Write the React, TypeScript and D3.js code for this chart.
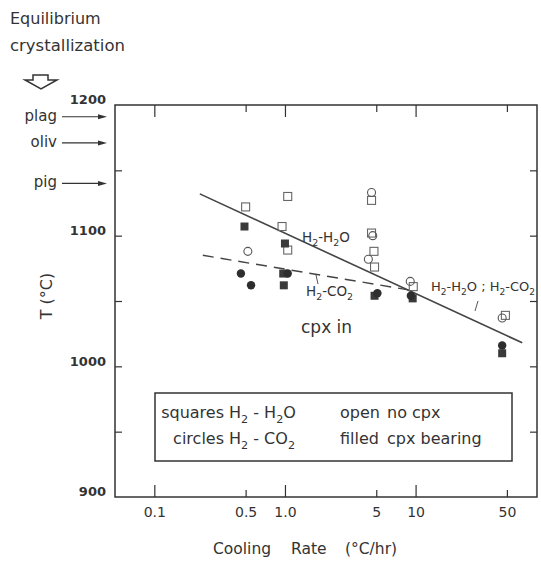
import React, { useEffect, useRef } from 'react';
import * as d3 from 'd3';

// cooling rate (°C/hr), temperature (°C) pairs
const openSquares = [[0.5, 1122], [1.05, 1130], [0.95, 1107], [1.05, 1089], [4.6, 1127], [4.6, 1102], [4.8, 1088], [4.85, 1076], [9.6, 1061], [48.7, 1039]];
const openCircles = [[0.52, 1088], [4.6, 1133], [4.7, 1100], [4.35, 1082], [9.1, 1065], [46, 1037]];
const filledSquares = [[0.49, 1107], [1.0, 1094], [0.97, 1071], [0.98, 1062], [4.85, 1054], [9.5, 1052], [46, 1010]];
const filledCircles = [[0.46, 1071], [0.55, 1062], [1.05, 1071], [5.1, 1056], [9.2, 1054], [46, 1016]];

// fitted trends
const h2oLine = [[0.223, 1132], [65.5, 1018]];
const co2Line = [[0.235, 1085], [8.8, 1058.5]];

// equilibrium crystallization temperatures
const eqPhases = ['plag', 'oliv', 'pig'];
const eqTemps = [1191, 1171, 1140];

const xMajor = [0.1, 1, 10];
const xMinor = [0.5, 5, 50];
const xTicks = [0.1, 0.5, 1, 5, 10, 50];
const xTickLabels = ['0.1', '0.5', '1.0', '5', '10', '50'];
const yMinor = [950, 1000, 1050, 1100, 1150];
const yLabels = [900, 1000, 1100, 1200];

const W = 541;
const H = 561;

const App = () => {
  const svgRef = useRef(null);

  useEffect(() => {
    const svg = d3.select(svgRef.current);
    svg.selectAll('*').remove();

    const left = 115, right = 537, top = 105, bottom = 497;
    const ink = '#333';
    const font = '"DejaVu Sans", sans-serif';

    const x = d3.scaleLog().domain([0.05, 85]).range([left, right]);
    const y = d3.scaleLinear().domain([900, 1200]).range([bottom, top]);

    // text with "_2" style subscripts
    const richText = (xPos, yPos, str, size, anchor = 'start') => {
      const t = svg.append('text')
        .attr('x', xPos).attr('y', yPos)
        .attr('font-size', size).attr('font-family', font)
        .attr('text-anchor', anchor).attr('fill', ink);
      const shift = size * 0.3;
      let down = false;
      let buf = '';
      const flush = () => {
        if (!buf) return;
        const ts = t.append('tspan').text(buf);
        if (down) { ts.attr('dy', -shift); down = false; }
        buf = '';
      };
      for (let i = 0; i < str.length; i++) {
        if (str[i] === '_' && i + 1 < str.length) {
          flush();
          t.append('tspan').text(str[i + 1]).attr('font-size', size * 0.7).attr('dy', down ? 0 : shift);
          down = true;
          i++;
        } else buf += str[i];
      }
      flush();
      return t;
    };

    // frame
    svg.append('rect')
      .attr('x', left).attr('y', top)
      .attr('width', right - left).attr('height', bottom - top)
      .attr('fill', 'none').attr('stroke', ink).attr('stroke-width', 1.5);

    const styleAxis = g => {
      g.select('.domain').remove();
      g.selectAll('line').attr('stroke', ink).attr('stroke-width', 1.2);
      g.attr('font-family', font).attr('fill', ink);
    };

    // x ticks (inside, bottom and top)
    svg.append('g').attr('transform', `translate(0,${bottom})`)
      .call(d3.axisBottom(x).tickValues(xMajor).tickSize(-12).tickFormat(() => '')).call(styleAxis);
    svg.append('g').attr('transform', `translate(0,${bottom})`)
      .call(d3.axisBottom(x).tickValues(xMinor).tickSize(-7).tickFormat(() => '')).call(styleAxis);
    svg.append('g').attr('transform', `translate(0,${top})`)
      .call(d3.axisTop(x).tickValues(xMajor).tickSize(-12).tickFormat(() => '')).call(styleAxis);
    svg.append('g').attr('transform', `translate(0,${top})`)
      .call(d3.axisTop(x).tickValues(xMinor).tickSize(-7).tickFormat(() => '')).call(styleAxis);
    const xLab = svg.append('g').attr('transform', `translate(0,${bottom})`)
      .call(d3.axisBottom(x).tickValues(xTicks).tickSize(0).tickPadding(10).tickFormat((d, i) => xTickLabels[i]))
      .call(styleAxis);
    xLab.attr('font-size', 14);
    xLab.selectAll('text').attr('fill', ink);

    // y ticks (inside, left and right)
    svg.append('g').attr('transform', `translate(${left},0)`)
      .call(d3.axisLeft(y).tickValues(yMinor).tickSize(-7).tickFormat(() => '')).call(styleAxis);
    svg.append('g').attr('transform', `translate(${right},0)`)
      .call(d3.axisRight(y).tickValues(yMinor).tickSize(-7).tickFormat(() => '')).call(styleAxis);
    const yLab = svg.append('g').attr('transform', `translate(${left},0)`)
      .call(d3.axisLeft(y).tickValues(yLabels).tickSize(0).tickPadding(9).tickFormat(d => String(d)))
      .call(styleAxis);
    yLab.attr('font-size', 13).attr('font-weight', 'bold');
    yLab.selectAll('text').attr('fill', ink).attr('dy', '-0.08em');

    // axis titles
    const xt = svg.append('text')
      .attr('y', 554).attr('font-family', font).attr('font-size', 15.5).attr('fill', ink);
    xt.append('tspan').attr('x', 213).text('Cooling');
    xt.append('tspan').attr('x', 291).text('Rate');
    xt.append('tspan').attr('x', 345).text('(°C/hr)');

    svg.append('text')
      .attr('transform', `translate(52,296) rotate(-90)`)
      .attr('text-anchor', 'middle')
      .attr('font-family', font).attr('font-size', 16).attr('fill', ink)
      .text('T (°C)');

    // equilibrium crystallization
    svg.append('text').attr('x', 10).attr('y', 24)
      .attr('font-family', font).attr('font-size', 16).attr('fill', ink).text('Equilibrium');
    svg.append('text').attr('x', 10).attr('y', 51)
      .attr('font-family', font).attr('font-size', 16.5).attr('fill', ink).text('crystallization');
    svg.append('path')
      .attr('d', 'M33,75 L48,75 L48,80 L57,80 L41,89 L25,80 L33,80 Z')
      .attr('fill', 'none').attr('stroke', ink).attr('stroke-width', 1.5).attr('stroke-linejoin', 'miter');

    eqPhases.forEach((p, i) => {
      const yy = y(eqTemps[i]);
      svg.append('text').attr('x', 57).attr('y', yy + 4)
        .attr('text-anchor', 'end')
        .attr('font-family', font).attr('font-size', 15).attr('fill', ink).text(p);
      svg.append('line').attr('x1', 62).attr('x2', 100).attr('y1', yy).attr('y2', yy)
        .attr('stroke', ink).attr('stroke-width', 1.1);
      svg.append('path')
        .attr('d', `M${left - 8},${yy} L${left - 17},${yy - 2.5} L${left - 17},${yy + 2.5} Z`)
        .attr('fill', ink);
    });

    // trend lines
    const line = d3.line().x(d => x(d[0])).y(d => y(d[1]));
    svg.append('path').datum(h2oLine).attr('d', line)
      .attr('fill', 'none').attr('stroke', '#444').attr('stroke-width', 1.6);
    svg.append('path').datum(co2Line).attr('d', line)
      .attr('fill', 'none').attr('stroke', '#444').attr('stroke-width', 1.4)
      .attr('stroke-dasharray', '11,7');

    // data points
    const markerSize = 8;
    svg.append('g').selectAll('rect').data(openSquares).enter().append('rect')
      .attr('x', d => x(d[0]) - markerSize / 2).attr('y', d => y(d[1]) - markerSize / 2)
      .attr('width', markerSize).attr('height', markerSize)
      .attr('fill', 'white').attr('fill-opacity', 0).attr('stroke', '#666').attr('stroke-width', 1.1);
    svg.append('g').selectAll('circle').data(openCircles).enter().append('circle')
      .attr('cx', d => x(d[0])).attr('cy', d => y(d[1])).attr('r', 4)
      .attr('fill', 'none').attr('stroke', '#555').attr('stroke-width', 1.1);
    svg.append('g').selectAll('rect').data(filledSquares).enter().append('rect')
      .attr('x', d => x(d[0]) - markerSize / 2).attr('y', d => y(d[1]) - markerSize / 2)
      .attr('width', markerSize).attr('height', markerSize)
      .attr('fill', '#3a3a3a');
    svg.append('g').selectAll('circle').data(filledCircles).enter().append('circle')
      .attr('cx', d => x(d[0])).attr('cy', d => y(d[1])).attr('r', 4.2)
      .attr('fill', '#2e2e2e');

    // annotations
    richText(302, 242, 'H_2-H_2O', 13.5);
    richText(306, 296, 'H_2-CO_2', 13.5);
    svg.append('line').attr('x1', 316).attr('y1', 275).attr('x2', 318).attr('y2', 284)
      .attr('stroke', '#555').attr('stroke-width', 1);
    richText(431, 291, 'H_2-H_2O ; H_2-CO_2', 13);
    svg.append('line').attr('x1', 478).attr('y1', 301).attr('x2', 475).attr('y2', 311)
      .attr('stroke', '#555').attr('stroke-width', 1);
    svg.append('text').attr('x', 301).attr('y', 333)
      .attr('font-family', font).attr('font-size', 17).attr('fill', ink).text('cpx in');

    // legend box
    svg.append('rect').attr('x', 155).attr('y', 393).attr('width', 357).attr('height', 68)
      .attr('fill', 'white').attr('stroke', ink).attr('stroke-width', 1.5);
    const legSize = 16;
    const row1 = 418, row2 = 444;
    svg.append('text').attr('x', 224).attr('y', row1).attr('text-anchor', 'end')
      .attr('font-family', font).attr('font-size', legSize).attr('fill', ink).text('squares');
    svg.append('text').attr('x', 224).attr('y', row2).attr('text-anchor', 'end')
      .attr('font-family', font).attr('font-size', legSize).attr('fill', ink).text('circles');
    richText(229, row1, 'H_2 - H_2O', legSize);
    richText(229, row2, 'H_2 - CO_2', legSize);
    svg.append('text').attr('x', 340).attr('y', row1)
      .attr('font-family', font).attr('font-size', legSize).attr('fill', ink).text('open');
    svg.append('text').attr('x', 340).attr('y', row2)
      .attr('font-family', font).attr('font-size', legSize).attr('fill', ink).text('filled');
    svg.append('text').attr('x', 387).attr('y', row1)
      .attr('font-family', font).attr('font-size', legSize).attr('fill', ink).text('no cpx');
    svg.append('text').attr('x', 387).attr('y', row2)
      .attr('font-family', font).attr('font-size', legSize).attr('fill', ink).text('cpx bearing');
  }, []);

  return (
    <svg
      ref={svgRef}
      width={W}
      height={H}
      style={{ position: 'absolute', left: 0, top: 0, background: 'white' }}
    />
  );
};

export default App;
